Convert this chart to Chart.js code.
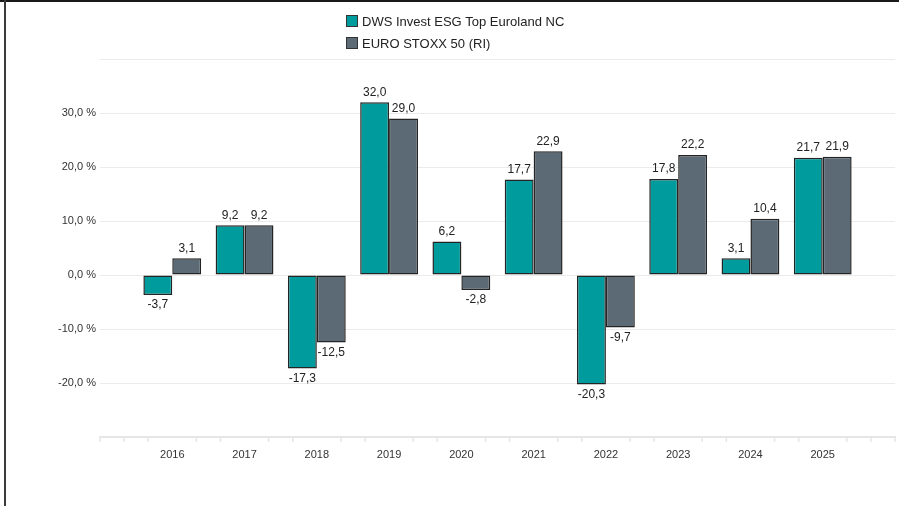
<!DOCTYPE html>
<html>
<head>
<meta charset="utf-8">
<title>Wertentwicklung</title>
<script src="https://cdn.jsdelivr.net/npm/chart.js@4.4.0/dist/chart.umd.min.js"></script>
<style>
  html, body { margin: 0; padding: 0; background: #fff; }
  #wrap { position: relative; width: 899px; height: 506px; }
</style>
</head>
<body>
<div id="wrap"><canvas id="perfChart" width="899" height="506"></canvas></div>
<script>
// Jahreswerte in %
var jahre = ['2016', '2017', '2018', '2019', '2020', '2021', '2022', '2023', '2024', '2025'];
var fondsWerte = [-3.7, 9.2, -17.3, 32.0, 6.2, 17.7, -20.3, 17.8, 3.1, 21.7];
var indexWerte = [3.1, 9.2, -12.5, 29.0, -2.8, 22.9, -9.7, 22.2, 10.4, 21.9];
var serienNamen = ['DWS Invest ESG Top Euroland NC', 'EURO STOXX 50 (RI)'];
var serienFarben = ['#009b9d', '#5b6a75'];
var yMin = -30, yMax = 40, yStep = 10;

var schrift = "'Liberation Sans', Arial, sans-serif";

function fmt(v) {
    return v.toFixed(1).replace('.', ',');
}

// leere Kategorie links und rechts als Rand
var labels = [''].concat(jahre, ['']);
function pad(arr) { return [null].concat(arr, [null]); }

var rahmenPlugin = {
    id: 'rahmen',
    afterDraw: function(chart) {
        var ctx = chart.ctx;
        ctx.save();
        ctx.fillStyle = '#1a1a1a';
        ctx.fillRect(0, 0, chart.width, 2);
        ctx.fillStyle = '#3a3a3a';
        ctx.fillRect(4, 0, 2, chart.height);
        ctx.restore();
    }
};

// kleine Striche an der x-Achse
var achsenPlugin = {
    id: 'achsenStriche',
    afterDraw: function(chart) {
        var xs = chart.scales.x;
        var ctx = chart.ctx;
        var y0 = chart.chartArea.bottom;
        var n = (labels.length - 1) * 3;
        ctx.save();
        ctx.strokeStyle = '#e6e6e6';
        ctx.lineWidth = 1.5;
        for (var k = 0; k <= n; k++) {
            if (k % 3 === 0 && k !== 0 && k !== n) continue;
            var x = xs.getPixelForValue(k / 3);
            ctx.beginPath();
            ctx.moveTo(x, y0);
            ctx.lineTo(x, y0 + 5);
            ctx.stroke();
        }
        ctx.restore();
    }
};

var wertePlugin = {
    id: 'werte',
    afterDatasetsDraw: function(chart) {
        var ctx = chart.ctx;
        ctx.save();
        ctx.font = '12px ' + schrift;
        ctx.fillStyle = '#222';
        ctx.textAlign = 'center';
        ctx.textBaseline = 'middle';
        chart.data.datasets.forEach(function(ds, i) {
            var meta = chart.getDatasetMeta(i);
            meta.data.forEach(function(bar, j) {
                var v = ds.data[j];
                if (v === null) return;
                var y = v >= 0 ? bar.y - 10 : bar.y + 10;
                ctx.fillText(fmt(v), bar.x, y);
            });
        });
        ctx.restore();
    }
};

var legendePlugin = {
    id: 'legende',
    afterDraw: function(chart) {
        var ctx = chart.ctx;
        ctx.save();
        ctx.font = '13px ' + schrift;
        ctx.textBaseline = 'middle';
        ctx.textAlign = 'left';
        serienNamen.forEach(function(name, i) {
            var cy = 21 + i * 22;
            ctx.fillStyle = serienFarben[i];
            ctx.fillRect(346.5, cy - 5.5, 11, 11);
            ctx.strokeStyle = '#333';
            ctx.lineWidth = 1;
            ctx.strokeRect(346.5, cy - 5.5, 11, 11);
            ctx.fillStyle = '#222';
            ctx.fillText(name, 362, cy + 1);
        });
        ctx.restore();
    }
};

var ctx = document.getElementById('perfChart').getContext('2d');
var chart = new Chart(ctx, {
    type: 'bar',
    data: {
        labels: labels,
        datasets: [
            {
                label: serienNamen[0],
                data: pad(fondsWerte),
                backgroundColor: serienFarben[0],
                borderColor: '#242424',
                borderWidth: 1.5,
                borderSkipped: false,
                categoryPercentage: 0.8,
                barPercentage: 1.0
            },
            {
                label: serienNamen[1],
                data: pad(indexWerte),
                backgroundColor: serienFarben[1],
                borderColor: '#242424',
                borderWidth: 1.5,
                borderSkipped: false,
                categoryPercentage: 0.8,
                barPercentage: 1.0
            }
        ]
    },
    options: {
        responsive: false,
        animation: false,
        devicePixelRatio: 1,
        layout: { padding: { top: 59, right: 4, left: 0, bottom: 0 } },
        plugins: {
            legend: { display: false },
            tooltip: { enabled: false }
        },
        scales: {
            x: {
                type: 'category',
                offset: false,
                grid: { display: false },
                border: { display: true, color: '#e6e6e6', width: 2 },
                ticks: {
                    autoSkip: false,
                    maxRotation: 0,
                    padding: 3,
                    color: '#333',
                    font: { family: schrift, size: 11 }
                },
                afterFit: function(scale) { scale.height = 69; }
            },
            y: {
                min: yMin,
                max: yMax,
                grid: {
                    drawTicks: false,
                    color: function(c) {
                        return c.tick && c.tick.value === yMin ? 'rgba(0,0,0,0)' : '#ebebeb';
                    }
                },
                border: { display: false },
                ticks: {
                    stepSize: yStep,
                    padding: 4,
                    color: '#333',
                    font: { family: schrift, size: 11 },
                    callback: function(v) {
                        if (v <= yMin || v >= yMax) return '';
                        return fmt(v) + ' %';
                    }
                },
                afterFit: function(scale) { scale.width = 100; }
            }
        }
    },
    plugins: [achsenPlugin, wertePlugin, legendePlugin, rahmenPlugin]
});
</script>
</body>
</html>
